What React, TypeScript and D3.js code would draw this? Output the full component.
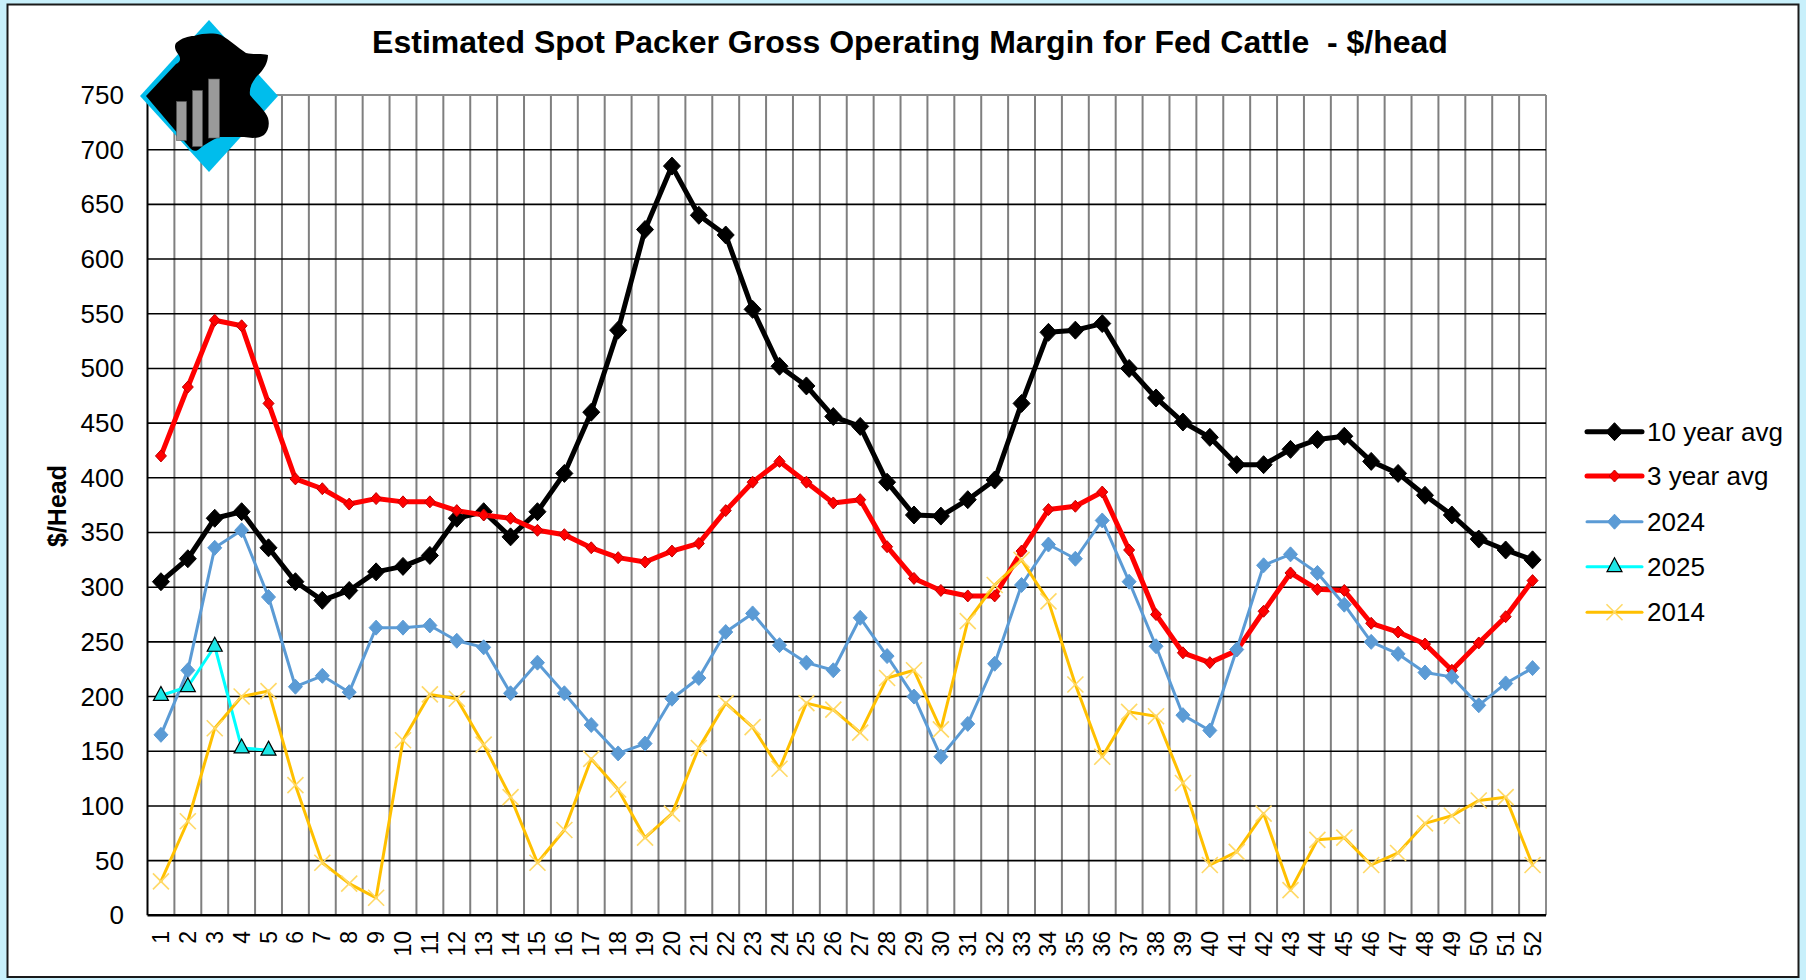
import React from 'react';
import * as d3 from 'd3';

const weeks = [1,2,3,4,5,6,7,8,9,10,11,12,13,14,15,16,17,18,19,20,21,22,23,24,25,26,27,28,29,30,31,32,33,34,35,36,37,38,39,40,41,42,43,44,45,46,47,48,49,50,51,52];
const yTicks = [0,50,100,150,200,250,300,350,400,450,500,550,600,650,700,750];

const tenYearAvg = [305,326,363,369,336,305,288,297,314,319,329,363,369,346,369,404,460,535,627,685,640,622,554,502,484,456,447,396,366,365,380,398,468,533,535,541,500,473,451,437,412,412,426,435,438,415,404,384,366,344,334,325];
const threeYearAvg = [420,483,544,539,468,399,390,376,381,378,378,370,366,363,352,348,336,327,323,333,340,370,396,415,396,377,380,337,308,297,292,292,333,371,374,387,334,275,240,231,242,278,313,298,297,267,259,248,224,249,273,306];
const y2024 = [165,224,336,352,291,209,219,204,263,263,265,251,245,203,231,203,174,148,157,198,217,259,276,247,231,224,272,237,200,145,175,230,302,339,326,361,305,246,183,169,243,320,330,313,284,250,239,222,218,192,212,226];
const y2025 = [201,209,246,153,151];
const y2014 = [31,86,171,200,205,119,48,29,16,160,202,198,156,108,48,78,143,115,71,93,153,194,172,134,194,188,167,217,224,170,269,302,325,287,211,145,186,182,121,46,58,93,23,69,71,46,57,84,91,105,108,46];

const seriesNames = ['10 year avg', '3 year avg', '2024', '2025', '2014'];

const FONT = 'Liberation Sans, Arial, Helvetica, sans-serif';

type Marker = 'bigDiamond' | 'smallDiamond' | 'blueDiamond' | 'triangle' | 'x';

const series: { name: string; values: number[]; color: string; width: number; marker: Marker }[] = [
  { name: seriesNames[0], values: tenYearAvg, color: '#000000', width: 5, marker: 'bigDiamond' },
  { name: seriesNames[1], values: threeYearAvg, color: '#ff0000', width: 5, marker: 'smallDiamond' },
  { name: seriesNames[2], values: y2024, color: '#5b9bd5', width: 3, marker: 'blueDiamond' },
  { name: seriesNames[3], values: y2025, color: '#00ffff', width: 3, marker: 'triangle' },
  { name: seriesNames[4], values: y2014, color: '#ffc000', width: 3, marker: 'x' },
];

function MarkerShape({ type, x, y }: { type: Marker; x: number; y: number }) {
  if (type === 'bigDiamond') {
    return <path d={`M${x},${y - 9}L${x + 8.5},${y}L${x},${y + 9}L${x - 8.5},${y}Z`} fill="#000" stroke="#000" strokeWidth={1} />;
  }
  if (type === 'smallDiamond') {
    return <path d={`M${x},${y - 6}L${x + 5.5},${y}L${x},${y + 6}L${x - 5.5},${y}Z`} fill="#ff0000" stroke="#c00000" strokeWidth={1} />;
  }
  if (type === 'blueDiamond') {
    return <path d={`M${x},${y - 7.5}L${x + 7},${y}L${x},${y + 7.5}L${x - 7},${y}Z`} fill="#5b9bd5" stroke="#5b9bd5" strokeWidth={1} />;
  }
  if (type === 'triangle') {
    return <path d={`M${x},${y - 9}L${x + 7.5},${y + 5}L${x - 7.5},${y + 5}Z`} fill="#1de6e6" stroke="#000" strokeWidth={1.2} />;
  }
  return (
    <g stroke="#ffd966" strokeWidth={1.6}>
      <line x1={x - 8} y1={y - 8} x2={x + 8} y2={y + 8} />
      <line x1={x - 8} y1={y + 8} x2={x + 8} y2={y - 8} />
    </g>
  );
}

export default function App() {
  const W = 1806, H = 980;
  const left = 147.5, right = 1546, top = 95, bottom = 915.3;

  const x = d3.scaleBand<number>().domain(weeks).range([left, right]).padding(0);
  const cx = (w: number) => (x(w) as number) + x.bandwidth() / 2;
  const y = d3.scaleLinear().domain([0, 750]).range([bottom, top]);

  const line = d3.line<number>().x((_, i) => cx(weeks[i])).y((d) => y(d));

  const legendX1 = 1587, legendX2 = 1642, legendTextX = 1647;
  const legendYs = [431.7, 476, 521.7, 566.7, 612.3];

  return (
    <svg width={W} height={H} style={{ position: 'absolute', left: 0, top: 0, display: 'block' }} fontFamily={FONT}>
      <rect x={0} y={0} width={W} height={H} fill="#c8f0fb" />
      <rect x={7.5} y={4.5} width={1791} height={972.5} fill="#ffffff" stroke="#1a1a1a" strokeWidth={2} />

      {/* title */}
      <text x={910} y={53} textAnchor="middle" fontSize={32} fontWeight="bold" fill="#000" style={{ whiteSpace: 'pre' }}>
        {'Estimated Spot Packer Gross Operating Margin for Fed Cattle  - $/head'}
      </text>

      {/* vertical gridlines */}
      {weeks.slice(1).map((w) => (
        <line key={'v' + w} x1={x(w)} x2={x(w)} y1={top} y2={bottom} stroke="#7f7f7f" strokeWidth={2} />
      ))}
      <line x1={right} x2={right} y1={top} y2={bottom} stroke="#8c8c8c" strokeWidth={2} />
      {/* horizontal gridlines */}
      {yTicks.filter((t) => t > 0 && t < 750).map((t) => (
        <line key={'h' + t} x1={left} x2={right} y1={y(t)} y2={y(t)} stroke="#000" strokeWidth={1.6} />
      ))}
      <line x1={left} x2={right} y1={y(750)} y2={y(750)} stroke="#8c8c8c" strokeWidth={2} />
      {/* axes */}
      <line x1={left} x2={left} y1={top} y2={bottom} stroke="#000" strokeWidth={2} />
      <line x1={left} x2={right} y1={bottom} y2={bottom} stroke="#000" strokeWidth={2.5} />

      {/* y tick labels */}
      {yTicks.map((t) => (
        <text key={'yt' + t} x={124} y={y(t)} textAnchor="end" dominantBaseline="central" fontSize={26} fill="#000">
          {t}
        </text>
      ))}
      {/* x tick labels */}
      {weeks.map((w) => (
        <text
          key={'xt' + w}
          transform={`translate(${cx(w)},${931}) rotate(-90)`}
          textAnchor="end"
          dominantBaseline="central"
          fontSize={23}
          fill="#000"
        >
          {w}
        </text>
      ))}
      {/* y axis title */}
      <text transform={`translate(57,506) rotate(-90)`} textAnchor="middle" dominantBaseline="central" fontSize={25} fontWeight="bold" fill="#000">
        $/Head
      </text>

      {/* series */}
      {series.map((s) => (
        <g key={s.name}>
          <path d={line(s.values) || ''} fill="none" stroke={s.color} strokeWidth={s.width} strokeLinejoin="round" strokeLinecap="round" />
          {s.values.map((v, i) => (
            <MarkerShape key={i} type={s.marker} x={cx(weeks[i])} y={y(v)} />
          ))}
        </g>
      ))}

      {/* legend */}
      {series.map((s, i) => (
        <g key={'lg' + s.name}>
          <line x1={legendX1} x2={legendX2} y1={legendYs[i]} y2={legendYs[i]} stroke={s.color} strokeWidth={s.width} strokeLinecap="round" />
          <MarkerShape type={s.marker} x={(legendX1 + legendX2) / 2} y={legendYs[i]} />
          <text x={legendTextX} y={legendYs[i]} dominantBaseline="central" fontSize={26} fill="#000">
            {s.name}
          </text>
        </g>
      ))}

      {/* logo */}
      <g>
        <path d="M209,20 L278,96 L209,172 L140,96 Z" fill="#00bdec" />
        <path
          d="M176,43 C182,38 188,36 194,36 C204,33 214,33 221,35 C230,40 238,48 246,53 C254,55 262,53 268,55 C268,62 264,70 257,76 C252,82 249,88 250,95 C256,103 265,110 268,118 C270,125 268,131 264,135 C258,139 250,138 244,137 C235,137 226,137 219,137 C212,140 205,144 198,150 C194,152 192,150 190,148 L146,96 L176,64 C181,62 181,58 178,54 C175,50 174,46 176,43 Z"
          fill="#000"
        />
        <rect x={176.5} y={101.5} width={10} height={39} fill="#9a9a9a" stroke="#555" strokeWidth={0.6} />
        <rect x={192.5} y={90.5} width={10} height={56} fill="#9a9a9a" stroke="#555" strokeWidth={0.6} />
        <rect x={208.5} y={79} width={11} height={59} fill="#9a9a9a" stroke="#555" strokeWidth={0.6} />
      </g>
    </svg>
  );
}
